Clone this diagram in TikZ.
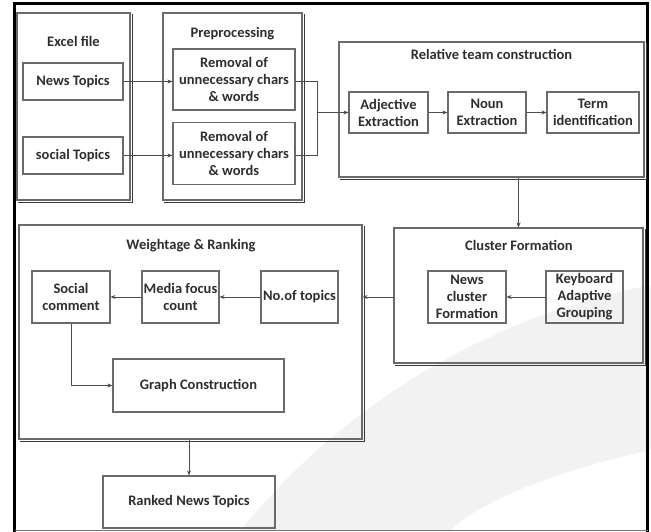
\documentclass[tikz,border=0pt]{standalone}
\usepackage{fontspec}
\setmainfont{Carlito}
\usetikzlibrary{arrows.meta}
\definecolor{txt}{HTML}{2E2E2E}
\definecolor{boxline}{HTML}{6A6A6A}
\definecolor{shade}{HTML}{3A3A3A}
\tikzset{
  box/.style={draw=boxline, line width=1.1pt, align=center, inner sep=1pt,
    font=\fontsize{14.5}{17}\selectfont\bfseries, text=txt},
  container/.style={draw=boxline, line width=1.1pt},
  ttl/.style={font=\fontsize{14.5}{17}\selectfont\bfseries, text=txt, inner sep=0pt},
  shadowline/.style={draw=shade, line width=1.4pt},
  conn/.style={draw=black!70, line width=0.9pt},
  arr/.style={conn, -{Stealth[length=5pt,width=4pt]}},
}
\newcommand{\boxshadow}[1]{\draw[shadowline] ([xshift=1.8pt,yshift=-1.8pt]#1.south west) -- ([xshift=1.8pt,yshift=-1.8pt]#1.south east) -- ([xshift=1.8pt,yshift=-1.8pt]#1.north east);}
\begin{document}
\begin{tikzpicture}[x=1pt,y=-1pt]
\useasboundingbox (0,0) rectangle (651,531);
\fill[white] (0,0) rectangle (651,531);
% faint watermark band
\fill[black!5] (240,531) .. controls (330,420) and (470,320) .. (651,285) -- (651,450) .. controls (560,470) and (480,500) .. (450,531) -- cycle;
% outer frame
\draw[line width=3pt, line cap=rect] (14.5,531) -- (14.5,3.5) -- (647.5,3.5) -- (647.5,531);
\draw[black!55, line width=0.8pt] (14.5,530.3) -- (647.5,530.3);

% containers
\node[container, minimum width=113pt, minimum height=187pt] (excel) at (73.5,106.5) {};
\node[container, minimum width=139pt, minimum height=187pt] (pre) at (232.5,106.5) {};
\node[container, minimum width=305pt, minimum height=135pt] (rel) at (491.5,109.5) {};
\node[container, minimum width=249pt, minimum height=135pt] (clu) at (518.5,295.5) {};
\node[container, minimum width=343pt, minimum height=214pt] (wr) at (190.5,332) {};
\boxshadow{excel}
\boxshadow{pre}
\boxshadow{rel}
\boxshadow{clu}
\boxshadow{wr}

% titles
\node[ttl] (texcel) at (73.5,41) {Excel file};
\node[ttl] (tpre) at (232.5,34) {Preprocessing};
\node[ttl] (trel) at (491.5,54) {Relative team construction};
\node[ttl] (tclu) at (519,245) {Cluster Formation};
\node[ttl] (twr) at (191,246) {Weightage \& Ranking};

% inner boxes
\node[box, minimum width=100pt, minimum height=37pt] (news) at (73,81.5) {News Topics};
\node[box, minimum width=100pt, minimum height=37pt] (social) at (73,155.5) {social Topics};
\node[box, minimum width=122pt, minimum height=61pt] (rem1) at (234,79.5) {Removal of\\unnecessary chars\\\& words};
\node[box, minimum width=122pt, minimum height=62pt] (rem2) at (234,153.5) {Removal of\\unnecessary chars\\\& words};
\node[box, minimum width=79pt, minimum height=41pt] (adj) at (388.5,112.5) {Adjective\\Extraction};
\node[box, minimum width=78pt, minimum height=41pt] (noun) at (487,112.5) {Noun\\Extraction};
\node[box, minimum width=92pt, minimum height=41pt] (term) at (593,112.5) {Term\\identification};
\node[box, minimum width=78pt, minimum height=52pt] (ncf) at (467,297) {News\\cluster\\Formation};
\node[box, minimum width=77pt, minimum height=52pt] (kag) at (584.5,297) {Keyboard\\Adaptive\\Grouping};
\node[box, minimum width=78pt, minimum height=52pt] (sc) at (71,297) {Social\\comment};
\node[box, minimum width=77pt, minimum height=52pt] (mfc) at (180.5,297) {Media focus\\count};
\node[box, minimum width=77pt, minimum height=52pt] (nt) at (299.5,297) {No.of topics};
\node[box, minimum width=171pt, minimum height=53pt] (gc) at (198.5,385.5) {Graph Construction};
\node[box, minimum width=172pt, minimum height=52pt] (rnt) at (189,502) {Ranked News Topics};

% connectors
\coordinate (j) at (317,112.5);
\draw[arr] (news.east) -- (rem1.west |- news.east);
\draw[arr] (social.east) -- (rem2.west |- social.east);
\draw[conn] (rem1.east |- news.east) -- (j |- news.east) -- (j |- social.east) -- (rem2.east |- social.east);
\draw[arr] (j) -- (adj.west);
\draw[arr] (adj) -- (noun);
\draw[arr] (noun) -- (term);
\draw[arr] (rel.south -| clu.north) -- (clu.north);
\draw[arr] (kag) -- (ncf);
\draw[arr] (clu.west |- ncf.west) -- (wr.east |- ncf.west);
\draw[arr] (nt) -- (mfc);
\draw[arr] (mfc) -- (sc);
\draw[arr] (sc.south) -- (sc.south |- gc.west) -- (gc.west);
\draw[arr] (wr.south -| rnt.north) -- (rnt.north);
\end{tikzpicture}
\end{document}
